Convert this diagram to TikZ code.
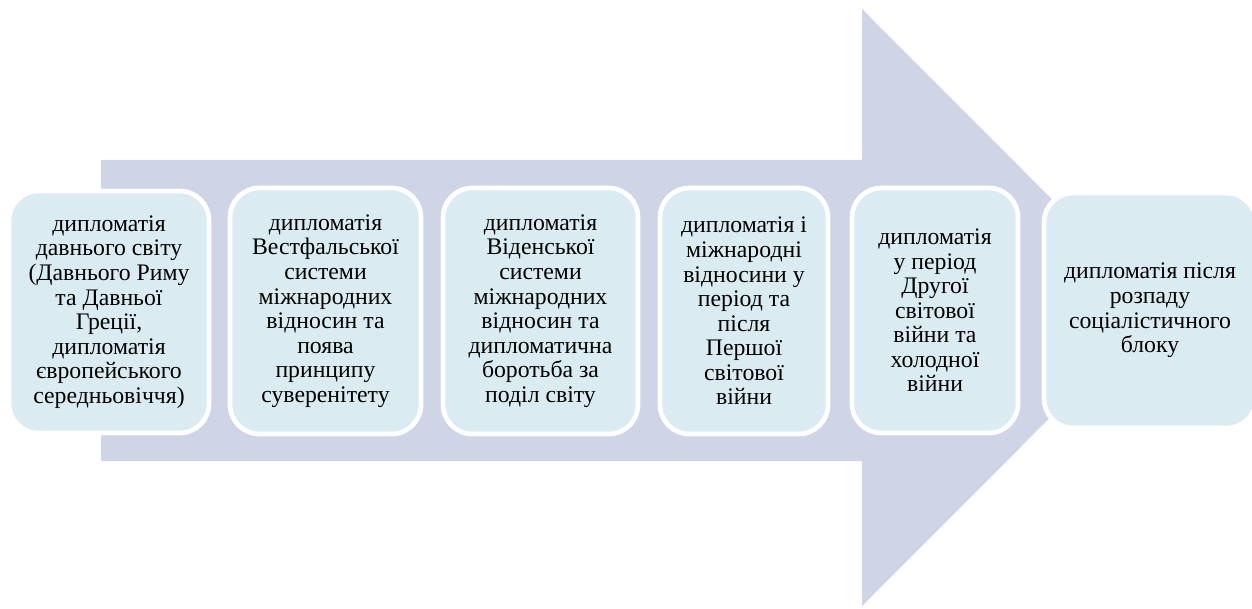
\documentclass[tikz,border=0pt]{standalone}
\usepackage{fontspec}
\setmainfont{Liberation Serif}
\definecolor{arrowfill}{HTML}{CFD5E6}
\definecolor{boxfill}{HTML}{DAECF2}
\begin{document}
\begin{tikzpicture}[x=0.75pt,y=-0.75pt,
  stagebox/.style={draw=white, line width=3.5pt, fill=boxfill, rounded corners=22pt,
    align=center, inner sep=0pt, font=\fontsize{17.8}{18.4}\selectfont, text=black}]
\useasboundingbox (0,0) rectangle (1252,609);
\fill[arrowfill] (101,160) -- (862,160) -- (862,9) -- (1160,307.5) -- (862,606) -- (862,461) -- (101,461) -- cycle;
\node[stagebox, minimum width=200*0.75pt, minimum height=242*0.75pt] (s1) at (109,312)
  {дипломатія\\давнього світу\\(Давнього Риму\\та Давньої\\Греції,\\дипломатія\\європейського\\середньовіччя)};
\node[stagebox, minimum width=191*0.75pt, minimum height=246*0.75pt] (s2) at (325.5,311)
  {дипломатія\\Вестфальської\\системи\\міжнародних\\відносин та\\поява\\принципу\\суверенітету};
\node[stagebox, minimum width=195*0.75pt, minimum height=246*0.75pt] (s3) at (540.5,311)
  {дипломатія\\Віденської\\системи\\міжнародних\\відносин та\\дипломатична\\боротьба за\\поділ світу};
\node[stagebox, minimum width=168*0.75pt, minimum height=246*0.75pt] (s4) at (744,311)
  {дипломатія і\\міжнародні\\відносини у\\період та\\після\\Першої\\світової\\війни};
\node[stagebox, minimum width=166*0.75pt, minimum height=245*0.75pt] (s5) at (935,310.5)
  {дипломатія\\у період\\Другої\\світової\\війни та\\холодної\\війни};
\node[stagebox, minimum width=212*0.75pt, minimum height=235*0.75pt] (s6) at (1150,310.5)
  {дипломатія після\\розпаду\\соціалістичного\\блоку};
\end{tikzpicture}
\end{document}
